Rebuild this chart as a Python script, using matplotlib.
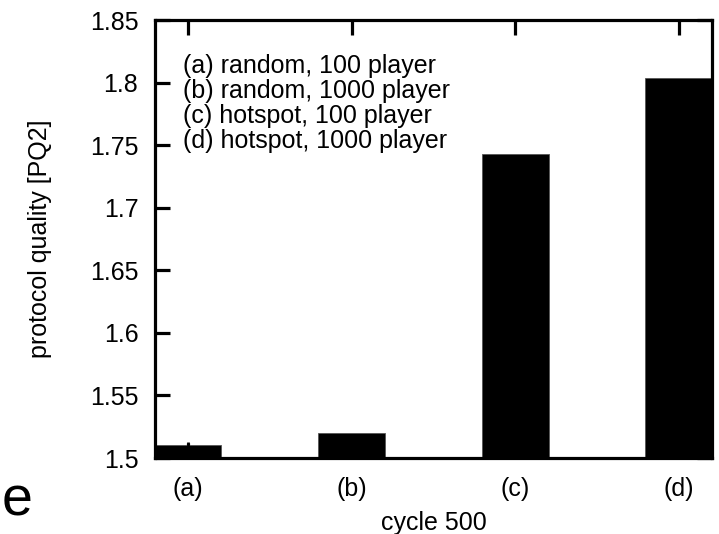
import matplotlib
matplotlib.use("Agg")
import matplotlib.pyplot as plt

# bar data
labels = ["(a)", "(b)", "(c)", "(d)"]
quality = [1.510, 1.520, 1.743, 1.804]
errors = [0.003, 0.0, 0.0, 0.0]
key_lines = ["(a) random, 100 player",
             "(b) random, 1000 player",
             "(c) hotspot, 100 player",
             "(d) hotspot, 1000 player"]
yticks = [1.5, 1.55, 1.6, 1.65, 1.7, 1.75, 1.8, 1.85]
yticklabels = ["1.5", "1.55", "1.6", "1.65", "1.7", "1.75", "1.8", "1.85"]

plt.rcParams['font.family'] = ['Liberation Sans', 'DejaVu Sans']

fig = plt.figure(figsize=(7.19, 5.34), dpi=100)
ax = fig.add_axes([0.2156, 0.1423, 0.7744, 0.8202])

x = list(range(1, len(labels) + 1))
ax.bar(x, quality, width=0.41, color="black", edgecolor="#555555", linewidth=0.6,
       yerr=errors, error_kw=dict(ecolor="black", elinewidth=2, capsize=0), zorder=3)

ax.set_xlim(0.8, 4.2)
ax.set_ylim(1.5, 1.85)
ax.set_xticks(x)
ax.set_xticklabels(labels)
ax.set_yticks(yticks)
ax.set_yticklabels(yticklabels)

for sp in ax.spines.values():
    sp.set_linewidth(2.3)
    sp.set_zorder(4)

ax.tick_params(axis="both", direction="in", length=11, width=2.3,
               top=True, right=True, labelsize=18)
ax.tick_params(axis="y", pad=12)
ax.tick_params(axis="x", pad=14)

ax.set_xlabel("cycle 500", fontsize=18, labelpad=7)
ax.set_ylabel("protocol quality [PQ2]", fontsize=18, labelpad=27)

ax.text(0.05, 0.923, "\n".join(key_lines), transform=ax.transAxes,
        fontsize=18, va="top", ha="left", linespacing=1.06, zorder=5)

fig.text(0.002, 0.034, "e", fontsize=40, ha="left", va="baseline")

fig.savefig("out.png", dpi=100)
